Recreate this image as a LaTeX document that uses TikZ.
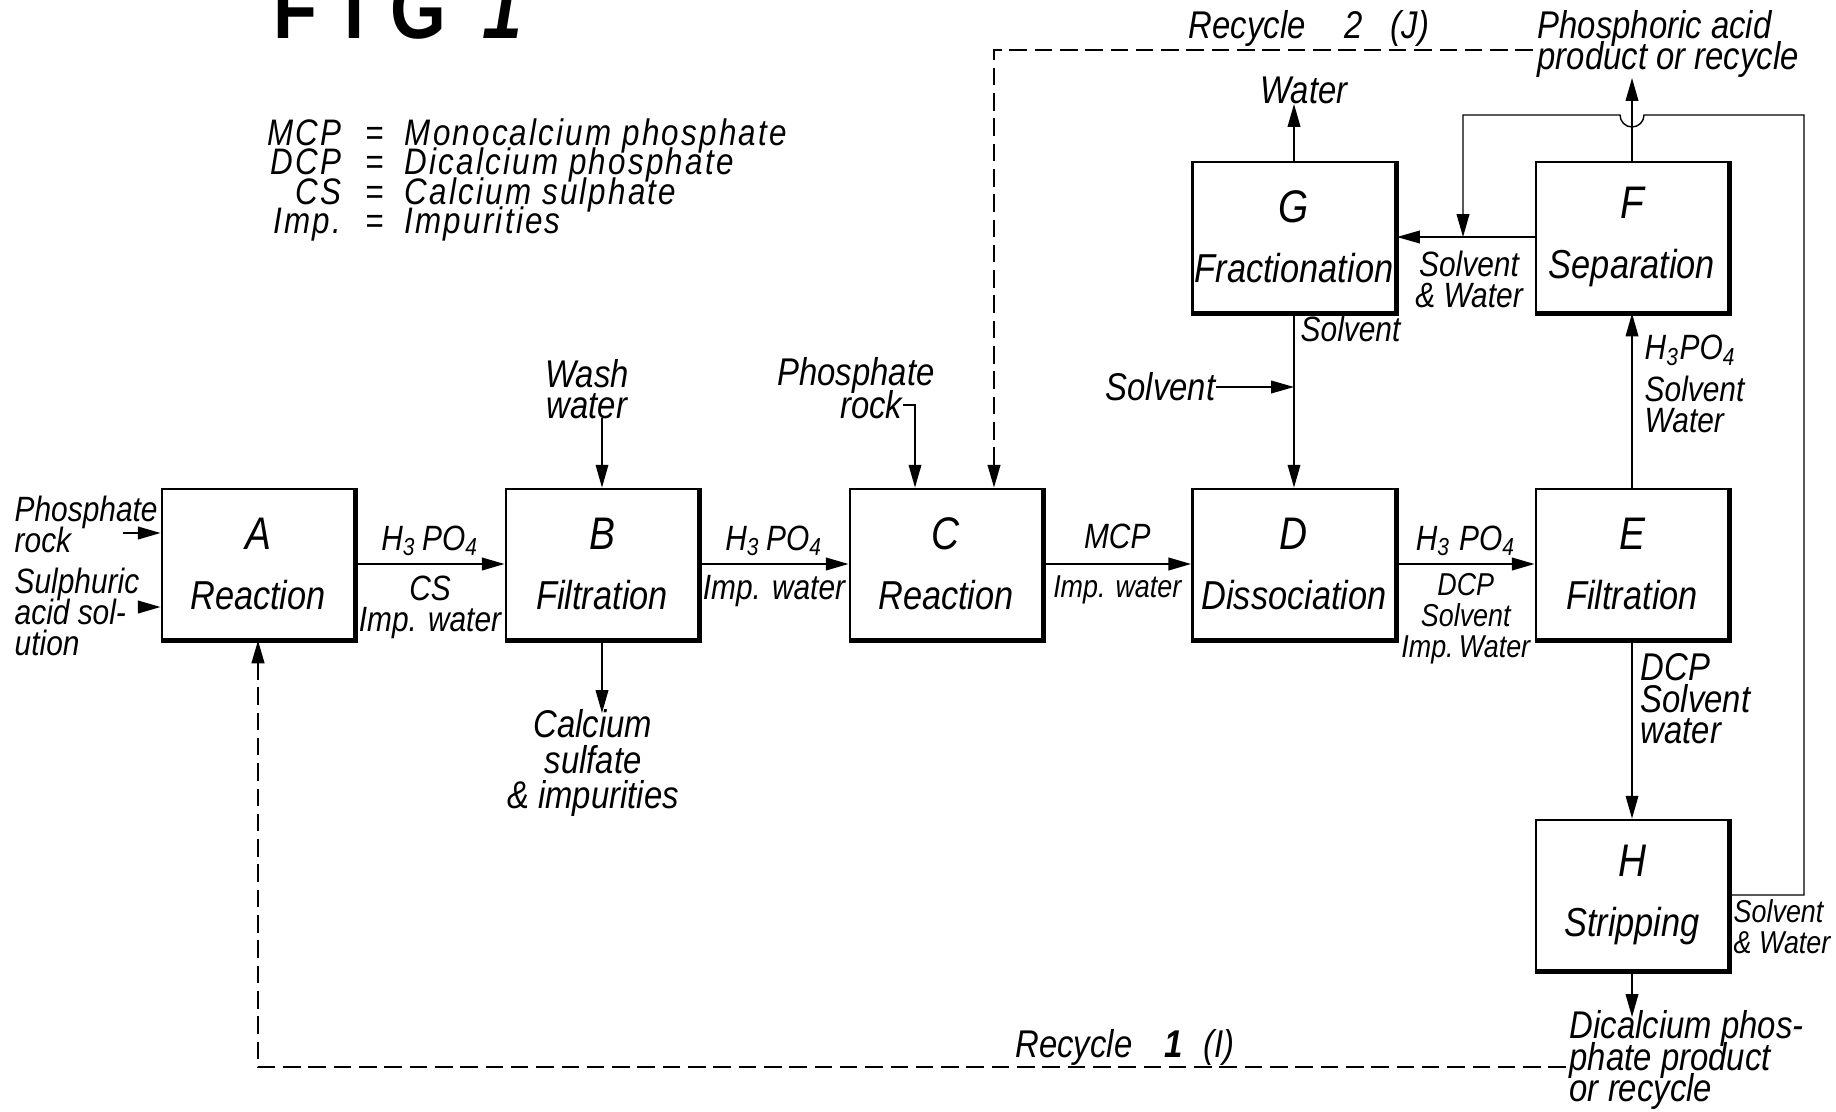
\documentclass[tikz,border=0pt]{standalone}
\usepackage{fontspec}
\setmainfont{Liberation Sans}[FakeStretch=0.85]
\usetikzlibrary{arrows.meta}
\setlength{\lineskiplimit}{-20pt}
\newcommand\titlefont{\fontsize{24}{24}\selectfont\bfseries}
\newcommand\legendfont{\fontsize{10.5}{12}\selectfont\itshape\addfontfeatures{LetterSpace=6}}
\newcommand\unitfont{\fontsize{11.5}{14}\selectfont\itshape}
\newcommand\unitletter{\fontsize{13}{14}\selectfont}
\newcommand\flowfont{\fontsize{10}{8.8}\selectfont\itshape}
\newcommand\smallflow{\fontsize{9}{8.8}\selectfont\itshape}
\newcommand\notefont{\fontsize{11}{9}\selectfont\itshape}

\begin{document}
\begin{tikzpicture}[
  unitbox/.style={draw, thick, minimum width=1.92cm, minimum height=1.5cm, inner sep=0pt, align=center, font=\unitfont},
  lbl/.style={inner sep=0pt, align=center, font=\flowfont},
  note/.style={inner sep=0pt, align=center, font=\notefont},
  legend/.style={inner sep=0pt, font=\legendfont},
  flow/.style={semithick, -{Triangle[length=6.5pt,width=3.6pt]}},
  feed/.style={thin, -{Triangle[length=6.5pt,width=3.6pt]}},
  recycle/.style={semithick, dash pattern=on 5pt off 2.2pt, -{Triangle[length=6.5pt,width=3.6pt]}}
]
\useasboundingbox (0,0) rectangle (18.36,-11.11);

% title
\foreach \c/\x in {F/2.73,I/3.44,G/3.90}
\node[font=\titlefont, inner sep=0pt, anchor=base west] (fig\c) at (\x,-0.38) {\c};
\node[font=\titlefont\itshape, inner sep=0pt, anchor=base west] (fig1) at (4.82,-0.38) {1};

% legend
\foreach \ab/\df [count=\i] in {MCP/Monocalcium phosphate, DCP/Dicalcium phosphate, CS/Calcium sulphate, Imp./Impurities} {
\node[legend, anchor=base east] (abbr\i) at (3.42,{-1.155-0.296*\i}) {\ab};
\node[legend, anchor=base] (eq\i) at (3.75,{-1.155-0.296*\i}) {=};
\node[legend, anchor=base west] (defn\i) at (4.04,{-1.155-0.296*\i}) {\df};
}

% units
\node[unitbox] (A) at (2.58,-5.64) {{\unitletter A}\\[3pt]Reaction};
\node[unitbox] (B) at (6.02,-5.64) {{\unitletter B}\\[3pt]Filtration};
\node[unitbox] (C) at (9.46,-5.64) {{\unitletter C}\\[3pt]Reaction};
\node[unitbox, minimum width=2.03cm] (D) at (12.94,-5.64) {{\unitletter D}\\[3pt]Dissociation};
\node[unitbox] (E) at (16.32,-5.64) {{\unitletter E}\\[3pt]Filtration};
\node[unitbox] (F) at (16.32,-2.37) {{\unitletter F}\\[3pt]Separation};
\node[unitbox, minimum width=2.03cm] (G) at (12.94,-2.37) {{\unitletter G}\\[3pt]Fractionation};
\node[unitbox] (H) at (16.32,-8.95) {{\unitletter H}\\[3pt]Stripping};
\foreach \u in {A,B,C,D,E,F,G,H}
\draw[line width=1.4pt] (\u.north east) -- (\u.south east) -- (\u.south west);

% main line
\draw[flow] (A) -- node[lbl, above=2pt] (AB-up) {H\textsubscript{3}\,PO\textsubscript{4}}
  node[lbl, below=3pt] (AB-dn) {CS\\Imp. water} (B);
\draw[flow] (B) -- node[lbl, above=2pt] (BC-up) {H\textsubscript{3}\,PO\textsubscript{4}}
  node[lbl, below=3pt] (BC-dn) {Imp. water} (C);
\draw[flow] (C) -- node[lbl, above=4pt] (CD-up) {MCP}
  node[lbl, below=3pt, font=\smallflow] (CD-dn) {Imp. water} (D);
\draw[flow] (D) -- node[lbl, above=2pt] (DE-up) {H\textsubscript{3} PO\textsubscript{4}}
  node[lbl, below=2.5pt, font=\smallflow] (DE-dn) {DCP\\Solvent\\Imp.\,Water} (E);

% feeds to A
\node[lbl, anchor=west, align=left] (rockA) at (0.14,-5.24) {Phosphate\\rock};
\node[lbl, anchor=west, align=left] (acidA) at (0.14,-6.12) {Sulphuric\\acid sol-\\ution};
\coordinate (rockA-in) at (1.23,-5.33);
\coordinate (acidA-in) at (1.43,-6.07);
\draw[flow] (rockA-in) -- (rockA-in -| A.west);
\draw[flow] (acidA-in) -- (acidA-in -| A.west);

% B
\node[note] (wash) at (5.87,-3.89) {Wash\\water};
\coordinate (wash-in) at (6.02,-4.18);
\draw[feed] (wash-in) -- (B.north);
\coordinate (cs-out) at (6.02,-7.13);
\draw[feed] (B.south) -- (cs-out);
\node[note] (cs) at (5.93,-7.63) {Calcium\\[1pt]sulfate\\[1pt]\& impurities};

% C
\node[note] (rockC1) at (8.56,-3.75) {Phosphate};
\node[note, anchor=east] (rockC2) at (9.03,-4.05) {rock};
\draw[feed] (rockC2.east) -| ([xshift=-3.1mm]C.north);
\coordinate (rec2) at (15.33,-0.50);
\draw[recycle] (rec2) -| ([xshift=4.8mm]C.north);
\node[note, anchor=base] (rec2-lbl) at (13.09,-0.38) {Recycle\hspace{11pt}2\hspace{8pt}(J)};

% D and G
\draw[feed] (G.south) -- (D.north);
\node[lbl, anchor=west] (G-solv) at (13.00,-3.29) {Solvent};
\node[note, anchor=east] (solv) at (12.16,-3.87) {Solvent};
\draw[feed] (solv.east) -- (solv.east -| D.north);
\coordinate (water-out) at (12.94,-1.04);
\draw[feed] (G.north) -- (water-out);
\node[note] (water) at (13.04,-0.90) {Water};

% E, F and H
\draw[feed] (E.north) -- (F.south);
\node[lbl, anchor=west, align=left] (EF) at (16.44,-3.84) {H\textsubscript{3}PO\textsubscript{4}\\[3pt]Solvent\\Water};
\draw[feed] (F.west) -- (G.east);
\node[lbl] (FG) at (14.69,-2.79) {Solvent\\\& Water};
\coordinate (acid-out) at (16.32,-0.78);
\draw[feed] (F.north) -- (acid-out);
\node[note, anchor=west, align=left] (acid) at (15.37,-0.44) {Phosphoric acid\\product or recycle};
\coordinate (loop-in) at (14.63,-2.37);
\draw[feed] (H.east) -- (18.04,-8.95) -- (18.04,-1.15) -- (16.44,-1.15)
  arc[start angle=0, end angle=-180, radius=0.12] -- (14.63,-1.15) -- (loop-in);
\node[lbl, anchor=west, font=\smallflow, align=left] (HS) at (17.33,-9.27) {Solvent\\\& Water};
\draw[feed] (E.south) -- (H.north);
\node[note, anchor=west, align=left] (EH) at (16.40,-6.99) {DCP\\Solvent\\water};
\coordinate (dcp-out) at (16.32,-10.17);
\draw[feed] (H.south) -- (dcp-out);
\node[note, anchor=west, align=left] (dcp) at (15.69,-10.60) {Dicalcium phos-\\phate product\\or recycle};
\coordinate (rec1) at (15.66,-10.67);
\draw[recycle] (rec1) -| (A.south);
\node[note, anchor=base] (rec1-lbl) at (11.25,-10.57) {Recycle\hspace{9pt}\textbf{1}\hspace{6pt}(I)};
\end{tikzpicture}
\end{document}
